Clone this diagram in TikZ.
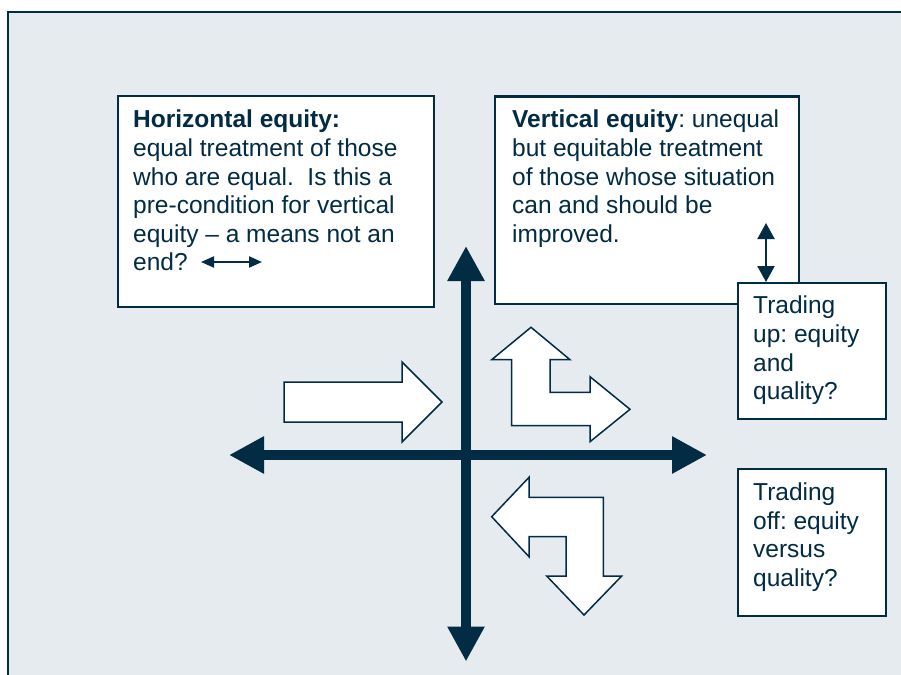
\documentclass[tikz,border=0pt]{standalone}
\usepackage{fontspec}
\setmainfont{Liberation Sans}
\usetikzlibrary{arrows.meta}
\definecolor{navy}{HTML}{022B44}
\definecolor{paleBg}{HTML}{E6EBF0}
\frenchspacing
\tikzstyle{infoBox}=[draw=navy,line width=2.2pt,fill=white,inner sep=0pt,anchor=north west]
\tikzstyle{boxText}=[text=navy,align=left,inner sep=0pt,anchor=north west,font=\fontsize{24.5pt}{28.6pt}\selectfont]
\tikzstyle{axisArrow}=[navy,line width=10pt,{Triangle[length=35pt,width=35pt]}-{Triangle[length=35pt,width=35pt]}]
\tikzstyle{blockArrow}=[draw=navy,line width=1.5pt,fill=white,line join=miter]

\begin{document}
\begin{tikzpicture}[x=1pt,y=-1pt]
	\useasboundingbox (0,0) rectangle (901,674);
	\fill[paleBg] (8,12.5) rectangle (910,680);
	\draw[navy,line width=2pt] (8,680) -- (8,12.5) -- (910,12.5);

	\node[infoBox,minimum width=316pt,minimum height=211pt] (hBox) at (117,95) {};
	\node[infoBox,minimum width=303.5pt,minimum height=207.5pt] (vBox) at (494,95.5) {};
	\node[infoBox,minimum width=148pt,minimum height=136pt] (upBox) at (737,282) {};
	\node[infoBox,minimum width=148pt,minimum height=147pt] (offBox) at (737,468) {};

	\node[boxText] (hText) at (133,110) {\textbf{Horizontal equity:}\\equal treatment of those\\who are equal.~ Is this a\\pre-condition for vertical\\equity -- a means not an\\end?};
	\node[boxText] (vText) at (512,110) {\textbf{Vertical equity}: unequal\\but equitable treatment\\of those whose situation\\can and should be\\improved.};
	\node[boxText] (upText) at (753,296) {Trading\\up: equity\\and\\quality?};
	\node[boxText] (offText) at (753,482.5) {Trading\\off: equity\\versus\\quality?};

	% small arrows
	\coordinate (endL) at (201,262);
	\coordinate (endR) at (262,262);
	\draw[navy,line width=2pt,{Triangle[length=13pt,width=11pt]}-{Triangle[length=13pt,width=11pt]}] (endL) -- (endR);
	\coordinate (vTop) at (766,223);
	\draw[navy,line width=2pt,{Triangle[length=16pt,width=17pt]}-{Triangle[length=16pt,width=17pt]}] (vTop) -- (vTop |- upBox.north);

	% axes
	\coordinate (axW) at (229,455);
	\coordinate (axE) at (707,455);
	\coordinate (axN) at (466,246);
	\coordinate (axS) at (466,661.5);
	\draw[axisArrow] (axW) -- (axE);
	\draw[axisArrow] (axN) -- (axS);

	% block arrows
	\draw[blockArrow] (284,382) -- (402,382) -- (402,362) -- (442,402) -- (402,442) -- (402,422) -- (284,422) -- cycle;
	\draw[blockArrow] (531,327.3) -- (570,359.7) -- (550,359.7) -- (550,392.3) -- (590,392.3) -- (590,376.7) -- (630,409.3) -- (590,441.7) -- (590,425.7) -- (511.7,425.7) -- (511.7,359.7) -- (491.7,359.7) -- cycle;
	\draw[blockArrow] (491.7,516.7) -- (529,477.3) -- (529,497.3) -- (603.3,497.3) -- (603.3,576) -- (621.7,576) -- (584,615) -- (546.7,576) -- (566,576) -- (566,536.7) -- (529,536.7) -- (529,556.7) -- cycle;
\end{tikzpicture}
\end{document}
